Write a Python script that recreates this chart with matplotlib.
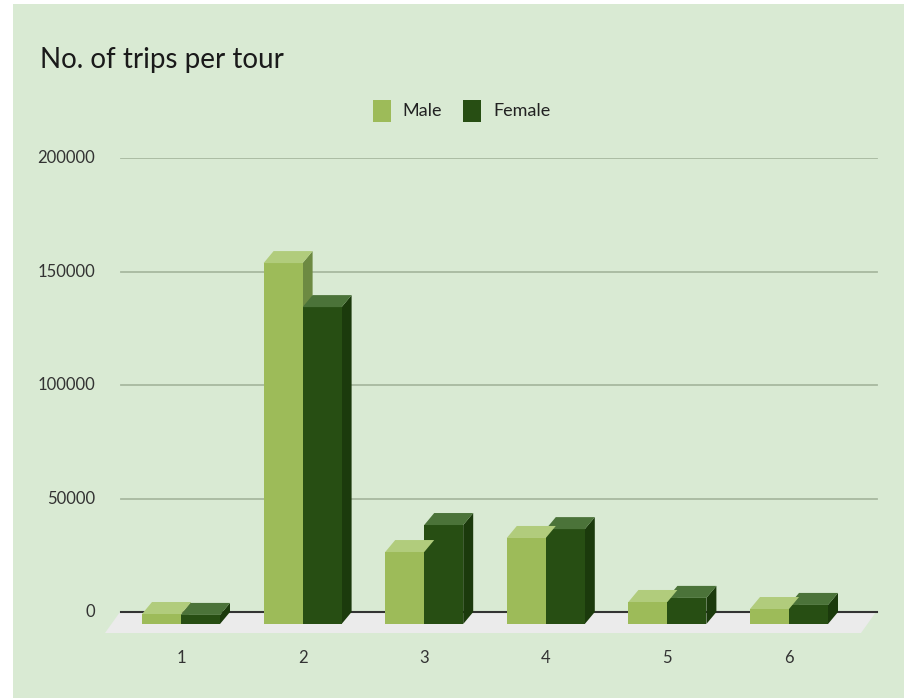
import matplotlib.pyplot as plt
from matplotlib.patches import Polygon, Rectangle

# Data
categories = ["1", "2", "3", "4", "5", "6"]
male = [4400, 159000, 31700, 37900, 9700, 6600]
female = [4000, 139600, 43600, 41800, 11500, 8400]
yticks = [0, 50000, 100000, 150000, 200000]

# Colours
bg = "#d9ead3"
male_front, male_top, male_side = "#9dbb59", "#b1cc7c", "#6d8a42"
fem_front, fem_top, fem_side = "#274e13", "#4b7339", "#1b3a0c"

W, H = 908, 698
fig = plt.figure(figsize=(W / 100, H / 100), dpi=100)
fig.patch.set_facecolor("white")
fig.patches.append(Rectangle((13 / W, 0), (904 - 13) / W, (H - 4) / H,
                             transform=fig.transFigure, facecolor=bg,
                             edgecolor="none", zorder=-10))

# axes placed in pixel space: x 100..880, y 158 (200000) .. 640
px_per_unit = 454 / 200000
ax_left, ax_right = 100, 880
ax_top, ax_bot = 158, 640
ax = fig.add_axes([ax_left / W, 1 - ax_bot / H, (ax_right - ax_left) / W, (ax_bot - ax_top) / H])
ax.set_facecolor("none")
for s in ax.spines.values():
    s.set_visible(False)

cat_px = 121.6
x0 = 1 - (181 - ax_left) / cat_px
x1 = 1 + (ax_right - 181) / cat_px
ax.set_xlim(x0, x1)
ymin = -(ax_bot - 612) / px_per_unit
ax.set_ylim(ymin, 200000)

def px_x(p):
    return 1 + (p - 181) / cat_px

def px_y(p):
    return (612 - p) / px_per_unit

# floor
floor = Polygon([(px_x(105), px_y(633)), (px_x(861), px_y(633)),
                 (px_x(876), px_y(612)), (px_x(120), px_y(612))],
                closed=True, facecolor="#ebebeb", edgecolor="none", zorder=1)
ax.add_patch(floor)

# grid lines
for t in yticks[1:]:
    ax.plot([px_x(121), px_x(877)], [t, t], color="#a8b9a0", lw=1.3, zorder=0.5)
ax.plot([px_x(121), px_x(877)], [0, 0], color="#333333", lw=1.5, zorder=1.5)

bw = 39 / cat_px
dx = 10 / cat_px
d = 12 / px_per_unit

def bar3d(xl, v, front, top, side):
    ax.add_patch(Rectangle((xl, -d), bw, v, facecolor=front, edgecolor="none", zorder=3))
    ax.add_patch(Polygon([(xl, v - d), (xl + bw, v - d), (xl + bw + dx, v), (xl + dx, v)],
                         closed=True, facecolor=top, edgecolor="none", zorder=3))
    ax.add_patch(Polygon([(xl + bw, -d), (xl + bw + dx, 0), (xl + bw + dx, v), (xl + bw, v - d)],
                         closed=True, facecolor=side, edgecolor="none", zorder=2.5))

for i, (m, f) in enumerate(zip(male, female)):
    c = i + 1
    bar3d(c, f, fem_front, fem_top, fem_side)
    bar3d(c - bw, m, male_front, male_top, male_side)

ax.set_xticks([])
ax.set_yticks([])

font = "Lato"
for t in yticks:
    fig.text(95 / W, 1 - (612 - t * px_per_unit) / H, str(t), ha="right", va="center",
             fontsize=12, color="#333333", family=font)
for i, lab in enumerate(categories):
    fig.text((181 + i * cat_px) / W, 1 - 658 / H, lab, ha="center", va="center",
             fontsize=12, color="#333333", family=font)

fig.text(40 / W, 1 - 60 / H, "No. of trips per tour", ha="left", va="center",
         fontsize=20, color="#1a1a1a", family=font)

# legend
fig.patches.append(Rectangle((373 / W, 1 - 122 / H), 18 / W, 22 / H, transform=fig.transFigure,
                             facecolor=male_front, edgecolor="none"))
fig.text(402 / W, 1 - 111 / H, "Male", ha="left", va="center", fontsize=13, color="#222222", family=font)
fig.patches.append(Rectangle((463 / W, 1 - 122 / H), 18 / W, 22 / H, transform=fig.transFigure,
                             facecolor=fem_front, edgecolor="none"))
fig.text(493 / W, 1 - 111 / H, "Female", ha="left", va="center", fontsize=13, color="#222222", family=font)

fig.savefig("out.png", dpi=100)
